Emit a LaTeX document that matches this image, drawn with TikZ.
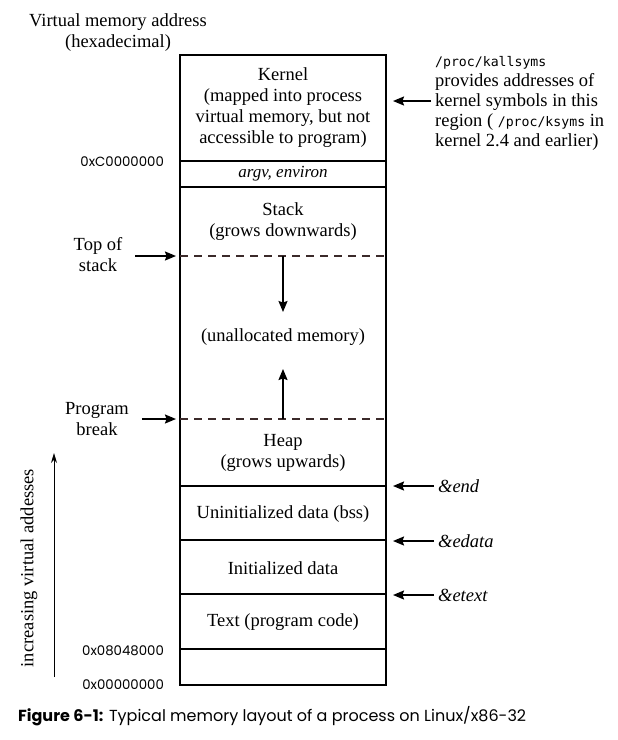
\documentclass[tikz,border=0pt]{standalone}
\usepackage{fontspec}
\setmainfont{Liberation Serif}
\setmonofont{DejaVu Sans Mono}
\newfontfamily\capfont{Poppins}
\usetikzlibrary{arrows.meta}
\definecolor{dashbrown}{HTML}{3B2A2A}
\newcommand\fname[1]{{\fontsize{13.2}{20}\selectfont\ttfamily #1}}
\tikzset{every picture/.style = {x=1pt, y=-1pt, line width=1.6pt}}
\tikzset{seg/.style = {align=center, font=\fontsize{18.5}{21}\selectfont}}
\tikzset{segit/.style = {align=center, font=\fontsize{17}{20}\selectfont\itshape}}
\tikzset{note/.style = {align=left, anchor=west, font=\fontsize{18.5}{20}\selectfont}}
\tikzset{addr/.style = {anchor=east, font=\capfont\fontsize{13.3}{15}\selectfont}}
\tikzset{ptr/.style = {-{Stealth[length=11pt, width=9pt, inset=1.5pt]}}}
\tikzset{brk/.style = {dash pattern=on 8pt off 6pt, color=dashbrown}}

\begin{document}
\begin{tikzpicture}
  \useasboundingbox (0,0) rectangle (618,740);
  % the address space and its regions
  \draw (180,55) rectangle (386,685);
  \foreach \y in {161, 187, 486, 540, 594, 649}
    \draw (180,\y) -- (386,\y);
  \draw[brk] (180,256) -- (386,256);
  \draw[brk] (180,419) -- (386,419);

  \node(kern)[seg] at (283,108)
    {Kernel\\(mapped into process\\virtual memory, but not\\accessible to program)};
  \node(args)[segit] at (283,174) {argv, environ};
  \node(stack)[seg] at (283,222) {Stack\\(grows downwards)};
  \node(free)[seg] at (283,337) {(unallocated memory)};
  \node(heap)[seg] at (283,453) {Heap\\(grows upwards)};
  \node(bss)[seg] at (283,514) {Uninitialized data (bss)};
  \node(data)[seg] at (283,568) {Initialized data};
  \node(text)[seg] at (283,622) {Text (program code)};

  % growth of stack and heap
  \coordinate(sp) at (283,256);
  \coordinate(sp-tip) at (283,312);
  \coordinate(brk-pt) at (283,419);
  \coordinate(brk-tip) at (283,369);
  \draw[ptr] (sp) -- (sp-tip);
  \draw[ptr] (brk-pt) -- (brk-tip);

  % left side
  \node(title)[seg] at (118,33) {Virtual memory address\\(hexadecimal)};
  \node(tos)[seg] at (98,255) {Top of\\stack};
  \node(pbrk)[seg] at (97,419) {Program\\break};
  \coordinate(tos-tip) at (176,256);
  \coordinate(pbrk-tip) at (176,419);
  \draw[ptr, shorten <=9pt] (tos.east |- tos-tip) -- (tos-tip);
  \draw[ptr, shorten <=9pt] (pbrk.east |- pbrk-tip) -- (pbrk-tip);

  \node(kbase)[addr] at (168,162) {0xC0000000};
  \node(tbase)[addr] at (168,651) {0x08048000};
  \node(zero)[addr] at (168,685) {0x00000000};

  \node(dir)[seg, rotate=90] at (29,568) {increasing virtual addesses};
  \coordinate(dir-lo) at (54,677);
  \coordinate(dir-hi) at (54,453);
  \draw[line width=0.9pt, -{Stealth[length=10pt, width=6pt]}] (dir-lo) -- (dir-hi);

  % right side
  \node(ksyms)[note] at (431,103)
    {\fname{/proc/kallsyms}\\provides addresses of\\kernel symbols in this\\%
     region ( \fname{/proc/ksyms} in\\kernel 2.4 and earlier)};
  \coordinate(kern-tip) at (393,101);
  \draw[ptr] (ksyms.west |- kern-tip) -- (kern-tip);

  \node(end)[note] at (434,486) {\textit{\&end}};
  \node(edata)[note] at (434,541) {\textit{\&edata}};
  \node(etext)[note] at (434,595) {\textit{\&etext}};
  \coordinate(end-tip) at (393,486);
  \coordinate(edata-tip) at (393,541);
  \coordinate(etext-tip) at (393,595);
  \draw[ptr] (end.west) -- (end-tip);
  \draw[ptr] (edata.west) -- (edata-tip);
  \draw[ptr] (etext.west) -- (etext-tip);

  % caption
  \node(cap)[anchor=west, font=\capfont\fontsize{16}{18}\selectfont] at (14,716)
    {\textbf{Figure 6-1:} Typical memory layout of a process on Linux/x86-32};
\end{tikzpicture}
\end{document}
